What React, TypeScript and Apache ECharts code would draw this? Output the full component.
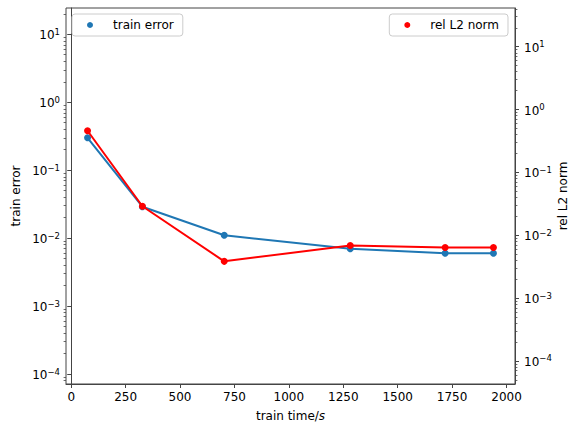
import React, { useEffect, useRef } from 'react';
import * as echarts from 'echarts';

const xValues = [75, 327, 703, 1282, 1718, 1940];
const trainError = [0.3, 0.029, 0.011, 0.007, 0.006, 0.006];
const relL2Norm = [0.46, 0.029, 0.00385, 0.0069, 0.0064, 0.0064];
const xTicks = [0, 250, 500, 750, 1000, 1250, 1500, 1750, 2000];
const yMajorTicks = [1e-4, 1e-3, 1e-2, 1e-1, 1, 10];
const xRange = [-24, 2039];
const leftRange = [Math.pow(10, -4.147), Math.pow(10, 1.387)];
const rightRange = [Math.pow(10, -4.366), Math.pow(10, 1.616)];

const FONT = 'DejaVu Sans';
const AXIS_COLOR = '#444';

function minorTicks(lo: number, hi: number): number[] {
  const out: number[] = [];
  for (let k = -6; k <= 2; k++) {
    for (let m = 2; m <= 9; m++) {
      const v = m * Math.pow(10, k);
      if (v >= lo && v <= hi) out.push(v);
    }
  }
  return out;
}

function powLabel(v: number): string {
  const e = Math.round(Math.log10(v));
  const s = e < 0 ? '\u2212' + String(-e) : String(e);
  return '{b|10}{s|' + s + '}';
}

const richPow = {
  b: { fontSize: 12, fontFamily: FONT, color: '#000', lineHeight: 14, verticalAlign: 'bottom' },
  s: { fontSize: 8.5, fontFamily: FONT, color: '#000', lineHeight: 4, verticalAlign: 'top' },
};

export default function App() {
  const ref = useRef<HTMLDivElement>(null);
  useEffect(() => {
    if (!ref.current) return;
    const chart = echarts.init(ref.current, undefined, { renderer: 'svg' });
    const mkMajorY = (range: number[], pos: 'left' | 'right', name: string, margin: number, nameGap: number) => ({
      type: 'log',
      position: pos,
      gridIndex: 0,
      min: range[0],
      max: range[1],
      logBase: 10,
      name,
      nameLocation: 'middle',
      nameRotate: 90,
      nameGap,
      nameMoveOverlap: false,
      nameTextStyle: { fontFamily: FONT, fontSize: 12, color: '#000' },
      axisLine: { show: true, lineStyle: { color: AXIS_COLOR, width: 1 } },
      axisTick: { show: true, length: 4, lineStyle: { color: AXIS_COLOR, width: 1 }, customValues: yMajorTicks },
      axisLabel: {
        show: true,
        margin,
        customValues: yMajorTicks,
        formatter: (v: number) => powLabel(v),
        rich: richPow,
      },
      splitLine: { show: false },
    });
    const mkMinorY = (range: number[], pos: 'left' | 'right') => ({
      type: 'log',
      position: pos,
      gridIndex: 0,
      min: range[0],
      max: range[1],
      logBase: 10,
      axisLine: { show: false },
      axisTick: { show: true, length: 2.4, lineStyle: { color: AXIS_COLOR, width: 0.8 }, customValues: minorTicks(range[0], range[1]) },
      axisLabel: { show: false },
      splitLine: { show: false },
    });
    const legendBase = {
      orient: 'horizontal',
      top: 14,
      itemWidth: 6,
      itemHeight: 6,
      padding: [4, 9, 4, 15],
      backgroundColor: 'rgba(255,255,255,0.8)',
      borderColor: '#ccc',
      borderWidth: 1,
      borderRadius: 3,
      textStyle: { fontFamily: FONT, fontSize: 12, color: '#000', lineHeight: 14, padding: [0, 0, 0, 15] },
    };
    const option = {
      animation: false,
      backgroundColor: '#fff',
      grid: {
        left: 66,
        right: 56,
        top: 8,
        bottom: 39,
        show: true,
        borderColor: AXIS_COLOR,
        borderWidth: 1,
        backgroundColor: 'transparent',
        containLabel: false,
        outerBoundsMode: 'none',
      },
      legend: [
        { ...legendBase, data: [{ name: 'train error', icon: 'circle' }], left: 72 },
        { ...legendBase, data: [{ name: 'rel L2 norm', icon: 'circle' }], right: 63 },
      ],
      xAxis: {
        type: 'value',
        min: xRange[0],
        max: xRange[1],
        name: 'train time/{i|s}',
        nameLocation: 'middle',
        nameGap: 26,
        nameMoveOverlap: false,
        nameTextStyle: {
          fontFamily: FONT,
          fontSize: 12,
          color: '#000',
          rich: { i: { fontFamily: FONT, fontSize: 12, fontStyle: 'italic', color: '#000' } },
        },
        axisLine: { show: true, lineStyle: { color: AXIS_COLOR, width: 1 } },
        axisTick: { show: true, length: 4, lineStyle: { color: AXIS_COLOR, width: 1 }, customValues: xTicks },
        axisLabel: {
          show: true,
          margin: 7,
          customValues: xTicks,
          formatter: (v: number) => String(v),
          fontFamily: FONT,
          fontSize: 12,
          color: '#000',
        },
        splitLine: { show: false },
      },
      yAxis: [
        mkMajorY(leftRange, 'left', 'train error', 44, 44),
        mkMajorY(rightRange, 'right', 'rel L2 norm', 9, 42),
        mkMinorY(leftRange, 'left'),
        mkMinorY(rightRange, 'right'),
      ].map((a, i) => (i === 0 ? { ...a, axisLabel: { ...a.axisLabel, margin: 6 } } : a)),
      series: [
        {
          name: 'train error',
          type: 'line',
          yAxisIndex: 0,
          data: xValues.map((x, i) => [x, trainError[i]]),
          symbol: 'circle',
          symbolSize: 7,
          itemStyle: { color: '#1f77b4' },
          lineStyle: { color: '#1f77b4', width: 2 },
          z: 2,
        },
        {
          name: 'rel L2 norm',
          type: 'line',
          yAxisIndex: 1,
          data: xValues.map((x, i) => [x, relL2Norm[i]]),
          symbol: 'circle',
          symbolSize: 7,
          itemStyle: { color: '#ff0000' },
          lineStyle: { color: '#ff0000', width: 2 },
          z: 3,
        },
      ],
    };
    chart.setOption(option as any);
    return () => chart.dispose();
  }, []);
  return (
    <div
      ref={ref}
      style={{ position: 'fixed', left: 0, top: 0, width: 571, height: 423, background: '#fff' }}
    />
  );
}
